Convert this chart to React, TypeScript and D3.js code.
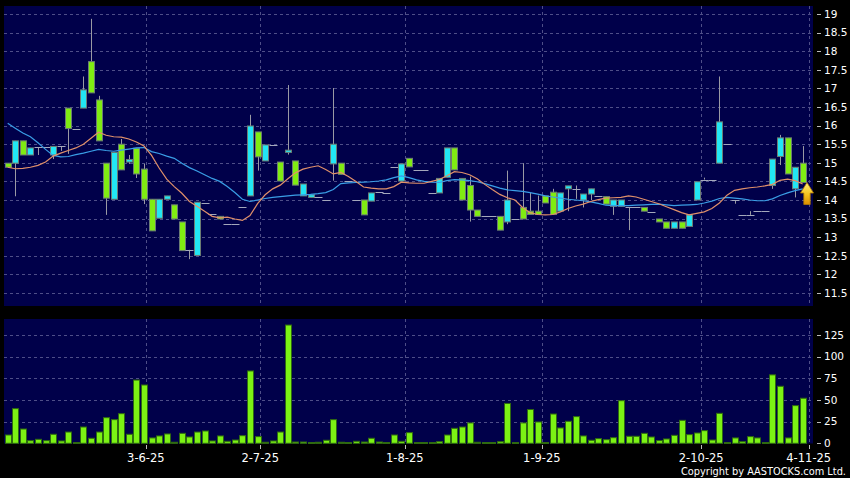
import React from "react";
import * as d3 from "d3";

// daily OHLC (cyan = close above open, lime = close below open)
const openPrice = [
  14.99, 14.99, 15.59, 15.21, 15.42, 15.42, 15.21, 15.44, 16.47, 15.92,
  16.47, 17.72, 16.69, 14.99, 14.02, 15.5, 15.02, 15.39, 14.83, 14.02,
  13.51, 14.02, 13.87, 13.41, 12.66, 12.51, 13.92, 13.62, 13.56, 13.35,
  13.35, 13.82, 14.11, 15.83, 15.05, 15.48, 15.02, 15.28, 15.05, 14.11,
  14.07, 14.08, 14.0, 14.97, 14.99, 14.51, 14.0, 14.0, 13.97, 14.21,
  14.19, 14.9, 14.51, 15.12, 14.81, 14.81, 14.19, 14.19, 14.61, 15.4,
  14.58, 14.39, 13.73, 13.56, 13.56, 13.56, 13.41, 13.49, 13.8, 13.7,
  13.7, 14.11, 14.21, 13.7, 14.3, 14.3, 14.0, 14.16, 14.11, 14.09,
  13.83, 13.83, 13.8, 13.8, 13.8, 13.69, 13.49, 13.41, 13.24, 13.41,
  13.29, 14.0, 14.55, 14.55, 14.99, 15.51, 14.0, 13.6, 13.6, 13.7,
  13.7, 14.39, 15.17, 15.67, 14.3, 14.99,
];
const highPrice = [
  14.99, 15.59, 15.59, 15.4, 15.42, 15.42, 15.44, 15.44, 16.47, 15.92,
  17.32, 18.87, 16.8, 14.99, 15.28, 15.64, 15.21, 15.39, 14.97, 14.02,
  14.02, 14.11, 13.87, 13.41, 12.66, 13.94, 13.92, 13.62, 13.56, 13.35,
  13.35, 13.82, 16.29, 15.83, 15.48, 15.48, 15.02, 17.09, 15.05, 14.43,
  14.14, 14.08, 14.0, 17.01, 14.99, 14.51, 14.0, 14.0, 14.19, 14.21,
  14.19, 14.9, 14.97, 15.12, 14.81, 14.81, 14.19, 14.58, 15.4, 15.4,
  14.58, 14.63, 13.73, 13.56, 13.56, 13.56, 14.79, 13.49, 14.99, 14.19,
  14.12, 14.11, 14.3, 14.19, 14.38, 14.39, 14.16, 14.3, 14.11, 14.09,
  14.0, 14.0, 13.8, 13.8, 13.8, 13.69, 13.49, 13.41, 13.41, 13.41,
  13.6, 14.49, 14.6, 14.55, 17.32, 15.51, 14.0, 13.6, 13.7, 13.7,
  13.7, 15.1, 15.75, 15.67, 14.88, 15.45,
];
const lowPrice = [
  14.88, 14.1, 15.21, 15.21, 15.21, 15.42, 15.1, 15.32, 15.24, 15.92,
  16.47, 16.88, 15.59, 13.6, 14.02, 14.81, 14.97, 14.59, 13.89, 13.17,
  13.51, 14.02, 13.49, 12.64, 12.41, 12.51, 13.92, 13.62, 13.49, 13.35,
  13.35, 13.82, 14.11, 14.79, 15.05, 15.48, 14.51, 15.22, 14.4, 14.11,
  14.07, 14.08, 14.0, 14.52, 14.69, 14.51, 14.0, 13.6, 13.97, 14.21,
  14.19, 14.9, 14.51, 14.89, 14.81, 14.81, 14.19, 14.19, 14.61, 14.81,
  14.0, 13.42, 13.56, 13.56, 13.56, 13.19, 13.35, 13.49, 13.49, 13.61,
  13.61, 13.92, 13.61, 13.7, 13.7, 14.03, 13.8, 14.0, 14.11, 13.89,
  13.6, 13.83, 13.19, 13.8, 13.7, 13.69, 13.41, 13.24, 13.24, 13.24,
  13.29, 14.0, 14.55, 14.55, 14.99, 15.51, 13.9, 13.6, 13.6, 13.7,
  13.7, 14.3, 14.94, 14.7, 14.07, 14.47,
];
const closePrice = [
  14.88, 15.59, 15.21, 15.4, 15.42, 15.42, 15.44, 15.44, 15.92, 15.92,
  16.96, 16.88, 15.59, 14.05, 15.28, 14.81, 15.09, 14.7, 14.02, 13.17,
  14.02, 14.11, 13.49, 12.64, 12.66, 13.94, 13.92, 13.62, 13.49, 13.35,
  13.35, 13.82, 15.99, 15.16, 15.48, 15.48, 14.51, 15.34, 14.4, 14.43,
  14.14, 14.08, 14.0, 15.5, 14.69, 14.51, 14.0, 13.6, 14.19, 14.21,
  14.19, 14.9, 14.97, 14.89, 14.81, 14.81, 14.19, 14.58, 15.4, 14.81,
  14.0, 13.73, 13.56, 13.56, 13.56, 13.19, 14.0, 13.49, 13.49, 13.61,
  13.61, 13.92, 13.61, 14.19, 14.38, 14.3, 14.16, 14.3, 14.11, 13.89,
  14.0, 14.0, 13.8, 13.8, 13.7, 13.69, 13.41, 13.24, 13.41, 13.24,
  13.6, 14.49, 14.55, 14.55, 16.1, 15.51, 14.0, 13.6, 13.6, 13.7,
  13.7, 15.1, 15.67, 14.7, 14.88, 14.47,
];
const volume = [
  9.6, 40, 16.5, 3, 4.6, 3, 10.4, 2.7, 13, 0.3,
  18.8, 5.8, 13, 29.6, 27.3, 34.2, 10.4, 73, 67.3, 6.2,
  8.5, 10.8, 1.2, 11.5, 7.3, 13, 14.2, 2.7, 8.5, 2.3,
  3.8, 8.8, 83.5, 7.7, 1.2, 2.7, 13, 136.5, 1.5, 1.5,
  0.2, 1.2, 3.5, 27.3, 1.2, 0.2, 2.3, 1.5, 5.8, 1.5,
  0.2, 9.6, 2.3, 12.3, 0, 0, 0, 1.9, 9.6, 17.3,
  18.8, 23.5, 1.2, 0, 0, 1.9, 46, 0.8, 23.5, 39,
  24.6, 0.8, 33.8, 17.7, 25.4, 30.8, 8.5, 3.5, 5.4, 4.2,
  6.5, 49.2, 8.1, 8.1, 11.5, 7.3, 3.1, 5, 9.2, 26.5,
  10, 11.9, 14.6, 3.8, 34.6, 0.8, 6.2, 1.9, 7.7, 6.2,
  0.5, 79, 65.8, 6.2, 43.5, 52,
];
// moving averages as drawn (orange = short, blue = long)
const maShort = [
  14.88, 14.84, 14.85, 14.88, 14.93, 15.02, 15.18, 15.26, 15.33, 15.4,
  15.5, 15.66, 15.82, 15.74, 15.7, 15.69, 15.64, 15.56, 15.45, 15.2,
  14.86, 14.56, 14.36, 14.18, 13.96, 13.83, 13.7, 13.56, 13.52, 13.54,
  13.49, 13.45, 13.58, 13.9, 14.14, 14.3, 14.4, 14.57, 14.73, 14.83,
  14.88, 14.92, 14.82, 14.7, 14.74, 14.63, 14.5, 14.35, 14.32, 14.3,
  14.3, 14.36, 14.48, 14.46, 14.45, 14.45, 14.5, 14.55, 14.65, 14.76,
  14.74, 14.68, 14.57, 14.42, 14.28, 14.15, 14.06, 14.0, 13.8, 13.66,
  13.61, 13.6, 13.61, 13.68, 13.77, 13.84, 13.89, 13.96, 14.01, 14.05,
  14.06, 14.07, 14.11, 14.08, 14.02, 13.96, 13.9, 13.82, 13.74, 13.66,
  13.6, 13.64, 13.68, 13.77, 13.92, 14.13, 14.26, 14.3, 14.33, 14.35,
  14.38, 14.42, 14.53, 14.56, 14.52, 14.43,
];
const maLong = [
  16.06, 15.93, 15.8, 15.7, 15.54, 15.36, 15.2, 15.16, 15.17, 15.22,
  15.26, 15.31, 15.36, 15.33, 15.31, 15.34, 15.37, 15.4, 15.41, 15.3,
  15.25, 15.18, 15.12, 14.99, 14.87, 14.78, 14.68, 14.58, 14.5, 14.36,
  14.2, 14.02, 13.96, 14.0, 14.04, 14.07, 14.09, 14.11, 14.13, 14.14,
  14.15, 14.17, 14.2, 14.28, 14.44, 14.46, 14.47, 14.48, 14.49, 14.51,
  14.54, 14.6, 14.65, 14.6, 14.54, 14.5, 14.48, 14.47, 14.52, 14.55,
  14.54, 14.52, 14.49, 14.44, 14.38, 14.32, 14.27, 14.25, 14.23, 14.2,
  14.16, 14.11, 14.08, 14.05, 14.02, 14.0, 13.98, 13.95, 13.91, 13.86,
  13.85, 13.85, 13.85, 13.86, 13.87, 13.88, 13.89, 13.87, 13.85, 13.86,
  13.87, 13.88, 13.92, 13.97, 14.04, 14.07, 14.05, 14.03, 14.0, 13.98,
  13.98, 14.03, 14.12, 14.19, 14.25, 14.3,
];

const dateLabels = ["3-6-25", "2-7-25", "1-8-25", "1-9-25", "2-10-25", "4-11-25"];
const dateTickIndex = [18.25, 33.35, 52.45, 70.55, 91.6, 105.8];
const priceTicks = [11.5, 12, 12.5, 13, 13.5, 14, 14.5, 15, 15.5, 16, 16.5, 17, 17.5, 18, 18.5, 19];
const volumeTicks = [0, 25, 50, 75, 100, 125];

const W = 850;
const H = 478;
const panelLeft = 4;
const panelRight = 813;
const priceTop = 6;
const priceBottom = 306;
const volTop = 319;
const volBottom = 443.5;

const NAVY = "#00004a";
const GRID = "#4e4e88";
const CYAN = "#22e6f4";
const LIME = "#80ec12";
const WICK = "#9a9aa4";
const FONT = "DejaVu Sans, Verdana, sans-serif";

export default function App() {
  const x = d3.scaleLinear().domain([0, openPrice.length - 1]).range([7.7, 802.7]);
  const y = d3.scaleLinear().domain([11.5, 19]).range([293, 14]);
  const yv = d3.scaleLinear().domain([0, 125]).range([443.3, 335]);

  const line = (vals: number[]) =>
    d3.line<number>().x((_, i) => x(i)).y((d) => y(d))(vals) || "";

  const crisp = (v: number) => Math.round(v) + 0.5;

  const last = closePrice.length - 1;
  const ax = Math.round(x(last)) + 4;
  const ay = y(closePrice[last]);

  return (
    <svg
      width={W}
      height={H}
      style={{ position: "fixed", left: 0, top: 0, display: "block" }}
    >
      <defs>
        <linearGradient id="arrowFill" x1="0" y1="0" x2="0" y2="1">
          <stop offset="0%" stopColor="#fff07a" />
          <stop offset="55%" stopColor="#f5c21c" />
          <stop offset="100%" stopColor="#d98c00" />
        </linearGradient>
      </defs>
      <rect x={0} y={0} width={W} height={H} fill="#000" />

      {/* panels */}
      <rect x={panelLeft} y={priceTop} width={panelRight - panelLeft} height={priceBottom - priceTop} fill={NAVY} />
      <rect x={panelLeft} y={volTop} width={panelRight - panelLeft} height={volBottom - volTop} fill={NAVY} />

      {/* horizontal grid */}
      {priceTicks.map((p) => (
        <line key={"pg" + p} x1={panelLeft} x2={panelRight} y1={crisp(y(p))} y2={crisp(y(p))}
          stroke={GRID} strokeDasharray="3,3" />
      ))}
      {volumeTicks.filter((v) => v > 0).map((v) => (
        <line key={"vg" + v} x1={panelLeft} x2={panelRight} y1={crisp(yv(v))} y2={crisp(yv(v))}
          stroke={GRID} strokeDasharray="3,3" />
      ))}

      {/* vertical grid */}
      {dateTickIndex.map((d, k) => (
        <g key={"dg" + k}>
          <line x1={crisp(x(d))} x2={crisp(x(d))} y1={priceTop} y2={priceBottom} stroke={GRID} strokeDasharray="3,3" />
          <line x1={crisp(x(d))} x2={crisp(x(d))} y1={volTop} y2={volBottom} stroke={GRID} strokeDasharray="3,3" />
        </g>
      ))}

      {/* candles */}
      {openPrice.map((o, i) => {
        const c = closePrice[i];
        const cx = Math.round(x(i));
        const wick = (
          <line x1={cx + 0.5} x2={cx + 0.5} y1={y(highPrice[i])} y2={y(lowPrice[i])} stroke={WICK} strokeWidth={1} />
        );
        if (o === c) {
          return (
            <g key={"c" + i}>
              {highPrice[i] !== lowPrice[i] && wick}
              <line x1={cx - 3.5} x2={cx + 4.5} y1={crisp(y(c))} y2={crisp(y(c))} stroke="#a4a8bc" strokeWidth={1} />
            </g>
          );
        }
        const top = y(Math.max(o, c));
        const bot = y(Math.min(o, c));
        return (
          <g key={"c" + i}>
            {wick}
            <rect x={cx - 2.5} y={top} width={6} height={Math.max(1, bot - top)}
              fill={c > o ? CYAN : LIME} stroke="#6b7c74" strokeWidth={1} />
          </g>
        );
      })}

      {/* moving averages */}
      <path d={line(maLong)} fill="none" stroke="#3a9ee6" strokeWidth={1.2} />
      <path d={line(maShort)} fill="none" stroke="#e0906a" strokeWidth={1.2} />

      {/* last price arrow */}
      <path
        d={`M${ax},${ay} L${ax + 6.5},${ay + 10.5} L${ax + 3.2},${ay + 10.5} L${ax + 3.2},${ay + 22} L${ax - 3.2},${ay + 22} L${ax - 3.2},${ay + 10.5} L${ax - 6.5},${ay + 10.5} Z`}
        fill="url(#arrowFill)" stroke="#b07a00" strokeWidth={0.8}
      />

      {/* volume bars */}
      {volume.map((v, i) => {
        const cx = Math.round(x(i));
        const top = yv(v);
        return (
          <rect key={"v" + i} x={cx - 2.5} y={Math.min(top, 442.5)} width={6}
            height={Math.max(1, yv(0) - top)} fill={v > 0.4 ? "#7cf214" : "#1e3a10"}
            stroke="#2f6a10" strokeWidth={1} />
        );
      })}

      {/* right axes */}
      {priceTicks.map((p) => (
        <g key={"pt" + p}>
          <line x1={817} x2={821} y1={crisp(y(p))} y2={crisp(y(p))} stroke="#bbbbbb" />
          <text x={824} y={y(p) + 3.8} fill="#ffffff" fontSize={10.5} fontFamily={FONT}>{String(p)}</text>
        </g>
      ))}
      {volumeTicks.map((v) => (
        <g key={"vt" + v}>
          <line x1={817} x2={821} y1={crisp(yv(v))} y2={crisp(yv(v))} stroke="#bbbbbb" />
          <text x={824} y={yv(v) + 3.8} fill="#ffffff" fontSize={10.5} fontFamily={FONT}>{String(v)}</text>
        </g>
      ))}

      {/* date axis */}
      {dateTickIndex.map((d, k) => (
        <g key={"dt" + k}>
          <line x1={crisp(x(d))} x2={crisp(x(d))} y1={445} y2={449} stroke="#bbbbbb" />
          <text x={x(d)} y={462} textAnchor="middle" fill="#ffffff" fontSize={11.5} fontFamily={FONT}>
            {dateLabels[k]}
          </text>
        </g>
      ))}

      <text x={846} y={474.5} textAnchor="end" fill="#ffffff" fontSize={9.8} fontFamily={FONT}>
        Copyright by AASTOCKS.com Ltd.
      </text>
    </svg>
  );
}
